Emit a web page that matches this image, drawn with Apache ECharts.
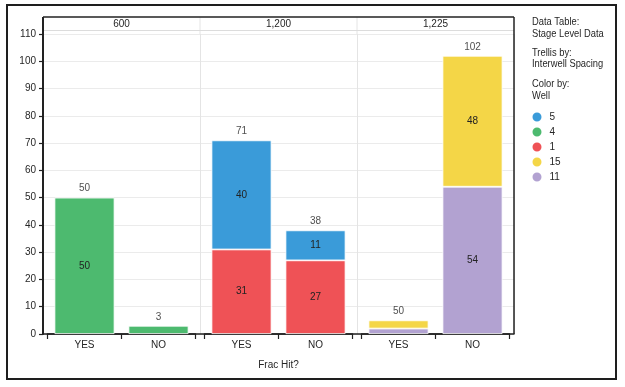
<!DOCTYPE html>
<html>
<head>
<meta charset="utf-8">
<script src="https://cdn.jsdelivr.net/npm/echarts@6/dist/echarts.min.js"></script>
<style>
html,body{margin:0;padding:0;background:#fff;}
#chart{width:625px;height:387px;}
</style>
</head>
<body>
<div id="chart"></div>
<script>
// ---- data ----
const panels = ['600', '1,200', '1,225'];
const categories = ['YES', 'NO'];
const legendOrder = ['5', '4', '1', '15', '11'];
const stackOrder = ['4', '1', '11', '5', '15'];
const well5 = [[null, null], [40, 11], [null, null]];
const well4 = [[50, 3], [null, null], [null, null]];
const well1 = [[null, null], [31, 27], [null, null]];
const well15 = [[null, null], [null, null], [3, 48]];
const well11 = [[null, null], [null, null], [2, 54]];
const totals = [[50, 3], [71, 38], [50, 102]];
const yMin = 0, yMax = 110, yStep = 10;
const infoLines = ['Data Table:', 'Stage Level Data', 'Trellis by:', 'Interwell Spacing', 'Color by:', 'Well'];

const wellData = { '5': well5, '4': well4, '1': well1, '15': well15, '11': well11 };
const colors = { '5': '#3A9BD9', '4': '#4DBA6F', '1': '#EF5256', '15': '#F4D647', '11': '#B2A2D1' };

// ---- layout ----
const W = 625, H = 387;
const plotL = 43, plotR = 514, plotT = 34, plotB = 334, headT = 17, headB = 30.5;
const panelW = (plotR - plotL) / panels.length;
const pad = 4.5;
const FONT = '"Liberation Sans", Arial, sans-serif';
const FS = 10;
const TXT = '#262626';

const grids = [{ left: plotL, right: W - plotR, top: plotT, bottom: H - plotB }];
const xAxes = [{
  type: 'value', gridIndex: 0, min: 0, max: panels.length, interval: 1,
  axisLine: { show: true, lineStyle: { color: '#222', width: 1.5 } },
  axisTick: { show: false }, axisLabel: { show: false },
  splitLine: { show: true, lineStyle: { color: '#e4e4e4', width: 1 } },
  name: 'Frac Hit?', nameLocation: 'middle', nameGap: 26,
  nameTextStyle: { fontFamily: FONT, fontSize: FS, color: TXT }
}];
const yAxes = [{
  type: 'value', gridIndex: 0, min: yMin, max: yMax, interval: yStep,
  axisLine: { show: true, lineStyle: { color: '#222', width: 2 } },
  axisTick: { show: true, length: 4, lineStyle: { color: '#222', width: 1.2 } },
  axisLabel: { fontFamily: FONT, fontSize: FS, color: TXT, margin: 7 },
  splitLine: { show: true, lineStyle: { color: '#ebebeb', width: 1 } }
}];
const series = [];
const graphics = [];

panels.forEach((p, i) => {
  const gl = plotL + i * panelW + pad;
  const gw = panelW - 2 * pad;
  grids.push({ left: gl, width: gw, top: plotT, bottom: H - plotB });
  xAxes.push({
    type: 'category', gridIndex: i + 1, data: categories,
    axisLine: { show: true, lineStyle: { color: '#222', width: 1.5 } },
    axisTick: { show: true, length: 5, lineStyle: { color: '#222', width: 1.2 } },
    axisLabel: { fontFamily: FONT, fontSize: FS, color: TXT, margin: 6 },
    splitLine: { show: false }
  });
  yAxes.push({ type: 'value', gridIndex: i + 1, min: yMin, max: yMax, interval: yStep, show: false, splitLine: { show: false } });

  const sums = categories.map(() => 0);
  stackOrder.forEach(w => {
    const d = wellData[w][i];
    if (d.every(v => v == null)) return;
    d.forEach((v, k) => { if (v != null) sums[k] += v; });
    series.push({
      type: 'bar', name: w, xAxisIndex: i + 1, yAxisIndex: i + 1, stack: 'p' + i,
      barWidth: 60, data: d,
      itemStyle: { color: colors[w], borderColor: '#fff', borderWidth: 0.8 },
      label: {
        show: true, position: 'inside', fontFamily: FONT, fontSize: FS, color: '#222',
        formatter: prm => (prm.value != null && prm.value >= 10) ? String(prm.value) : ''
      },
      emphasis: { disabled: true }
    });
  });
  series.push({
    type: 'scatter', name: 'total' + i, xAxisIndex: i + 1, yAxisIndex: i + 1,
    data: sums, symbolSize: 0, silent: true,
    label: {
      show: true, position: 'top', distance: 4, fontFamily: FONT, fontSize: FS, color: '#222',
      formatter: prm => String(totals[i][prm.dataIndex])
    }
  });
  graphics.push({
    type: 'text', x: plotL + (i + 0.5) * panelW, y: (headT + headB) / 2,
    style: { text: p, fontFamily: FONT, fontSize: FS, fill: TXT, align: 'center', verticalAlign: 'middle' }
  });
  if (i > 0) {
    graphics.push({
      type: 'line', shape: { x1: plotL + i * panelW, y1: headT, x2: plotL + i * panelW, y2: plotT },
      style: { stroke: '#e4e4e4', lineWidth: 1 }
    });
  }
});

// frame pieces
graphics.push({ type: 'rect', shape: { x: 7, y: 5, width: 609, height: 374 }, style: { fill: null, stroke: '#1e1e1e', lineWidth: 2 }, z: 10 });
graphics.push({ type: 'line', shape: { x1: plotL, y1: headB, x2: plotR, y2: headB }, style: { stroke: '#dcdcdc', lineWidth: 1 } });
graphics.push({ type: 'line', shape: { x1: plotL, y1: headT, x2: plotR, y2: headT }, style: { stroke: '#222', lineWidth: 1.5 }, z: 10 });
graphics.push({ type: 'line', shape: { x1: plotR, y1: headT, x2: plotR, y2: plotB }, style: { stroke: '#222', lineWidth: 1.5 }, z: 10 });
graphics.push({ type: 'line', shape: { x1: plotL, y1: headT, x2: plotL, y2: plotT }, style: { stroke: '#222', lineWidth: 2 }, z: 10 });

const infoY = [21.5, 34, 52.5, 64, 84, 95.5];
infoLines.forEach((t, k) => {
  graphics.push({
    type: 'text', x: 532, y: infoY[k], scaleX: 0.85, originX: 0,
    style: { text: t, fontFamily: FONT, fontSize: 11, fill: TXT, align: 'left', verticalAlign: 'middle' }
  });
});

const chart = echarts.init(document.getElementById('chart'), null, { renderer: 'canvas' });
chart.setOption({
  animation: false,
  backgroundColor: '#fff',
  grid: grids,
  xAxis: xAxes,
  yAxis: yAxes,
  legend: {
    data: legendOrder, orient: 'vertical', left: 525.5, top: 105.5,
    icon: 'circle', itemWidth: 11, itemHeight: 11, itemGap: 2, selectedMode: false,
    textStyle: { fontFamily: FONT, fontSize: FS, color: TXT, padding: [0, 0, 0, 2] }
  },
  series: series,
  graphic: graphics
});
</script>
</body>
</html>
